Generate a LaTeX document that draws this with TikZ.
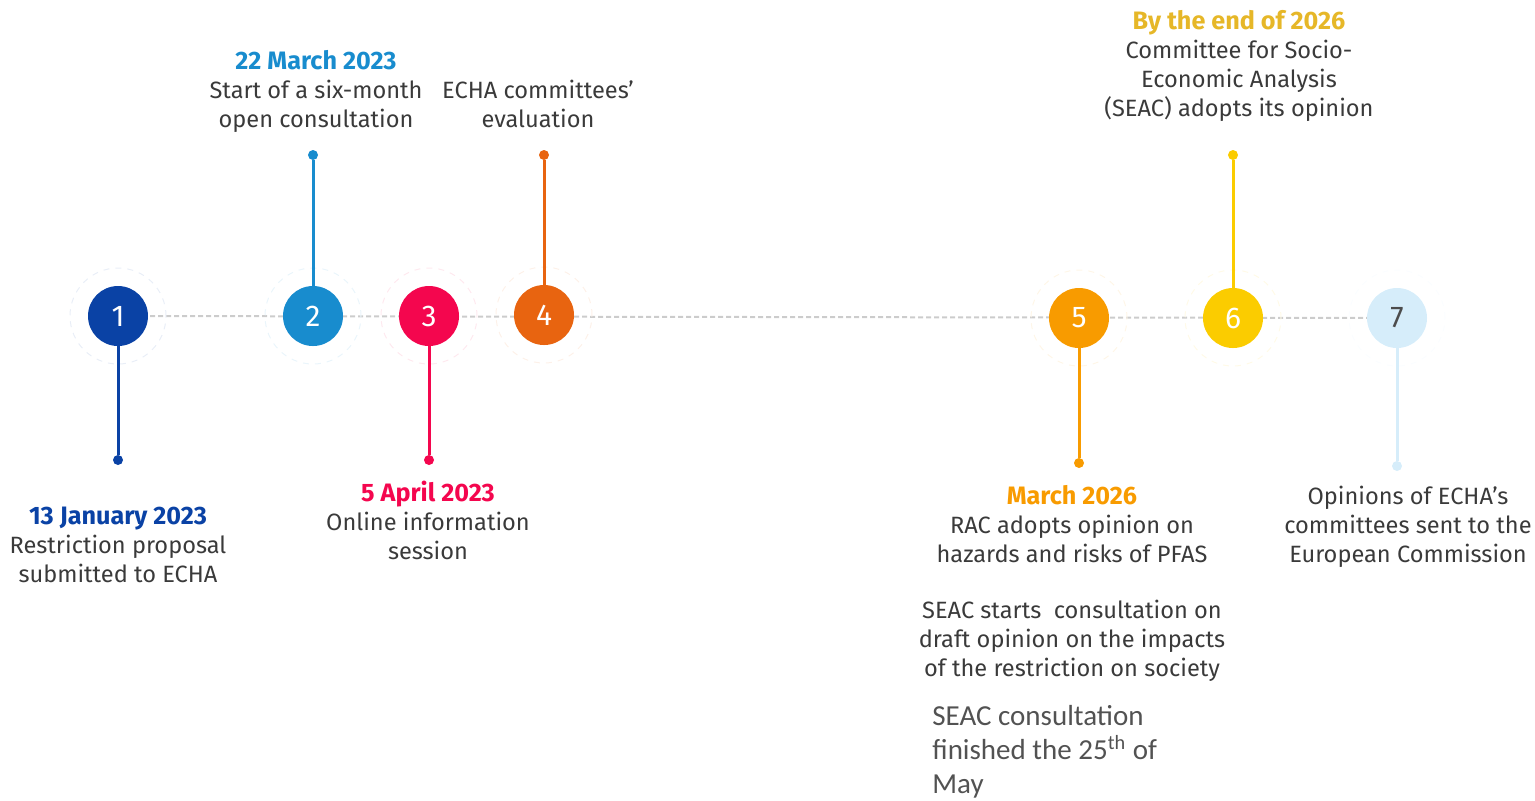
\documentclass[tikz,border=0pt]{standalone}
\usepackage{fontspec}
\setmainfont{Fira Sans}
\newfontfamily\bodyfont{Carlito}
\usetikzlibrary{positioning}
\definecolor{echanavy}{RGB}{10, 66, 165}
\definecolor{echablue}{RGB}{24, 140, 206}
\definecolor{echared}{RGB}{244, 6, 78}
\definecolor{echaorange}{RGB}{232, 100, 16}
\definecolor{echaamber}{RGB}{248, 155, 0}
\definecolor{echayellow}{RGB}{251, 204, 0}
\definecolor{echasky}{RGB}{214, 237, 250}
\definecolor{echagold}{RGB}{230, 183, 40}
\definecolor{textgray}{RGB}{58, 58, 58}
\newcommand{\stepdate}[2]{\textcolor{#1}{\fontsize{12.6}{14.5}\selectfont\bfseries #2}}

\begin{document}
\begin{tikzpicture}[x=0.5pt, y=-0.5pt,
    stepdot/.style={circle, fill=#1, minimum size=30pt, inner sep=0pt,
                    font=\fontsize{15}{15}\selectfont},
    enddot/.style={circle, fill=#1, minimum size=5pt, inner sep=0pt},
    halo/.style={circle, draw=#1!9, dashed, line width=0.5pt, minimum size=48pt, inner sep=0pt},
    stem/.style={draw=#1, line width=1.5pt},
    steptext/.style={align=center, inner sep=0pt, anchor=north, text=textgray,
                     font=\fontsize{11.8}{14.5}\selectfont},
    timeline/.style={draw=black!20, line width=1pt, dash pattern=on 2.5pt off 1.5pt}]
    \useasboundingbox (0,0) rectangle (1535,800);

    % Milestone positions along the line
    \foreach \n/\x/\y in {1/118/316, 2/313/316, 3/429/316, 4/544/315, 5/1079/318, 6/1233/318, 7/1397/318} {
        \coordinate (p\n) at (\x,\y);
    }
    \draw[timeline] (p1) -- (p7);

    % Numbered circles with their stems
    \foreach \n/\col/\num/\dy in {1/echanavy/white/460, 2/echablue/white/155, 3/echared/white/460,
                                  4/echaorange/white/155, 5/echaamber/white/463, 6/echayellow/white/155,
                                  7/echasky/black!70/466} {
        \node[halo=\col] (h\n) at (p\n) {};
        \node[stepdot=\col, text=\num] (c\n) at (p\n) {\n};
        \node[enddot=\col] (d\n) at (p\n |- 0,\dy) {};
        \draw[stem=\col] (c\n) -- (d\n);
    }

    % Texts above and below the line
    \node[steptext] (t1) at (118,507) {\stepdate{echanavy}{13 January 2023}\\Restriction proposal\\submitted to ECHA};
    \node[steptext] (t2) at (316,50) {\stepdate{echablue}{22 March 2023}\\Start of a six-month\\open consultation};
    \node[steptext] (t3) at (428,481) {\stepdate{echared}{5 April 2023}\\Online information\\session};
    \node[steptext] (t4) at (538,80) {ECHA committees’\\evaluation};
    \node[steptext] (t5) at (1072,485) {\stepdate{echaamber}{March 2026}\\RAC adopts opinion on\\hazards and risks of PFAS};
    \node[steptext] (t5b) at (1072,600) {SEAC starts\ \ consultation on\\draft opinion on the impacts\\of the restriction on society};
    \node[steptext] (t6) at (1239,10) {\stepdate{echagold}{By the end of 2026}\\Committee for Socio-\\Economic Analysis\\(SEAC) adopts its opinion};
    \node[steptext] (t7) at (1408,486) {Opinions of ECHA’s\\committees sent to the\\European Commission};

    \node[align=left, inner sep=0pt, anchor=north west, text=black!68,
          font=\bodyfont\fontsize{14.5}{17}\selectfont] (t5c) at (932,705)
          {SEAC consultation\\finished the 25\textsuperscript{th} of\\May};
\end{tikzpicture}
\end{document}
